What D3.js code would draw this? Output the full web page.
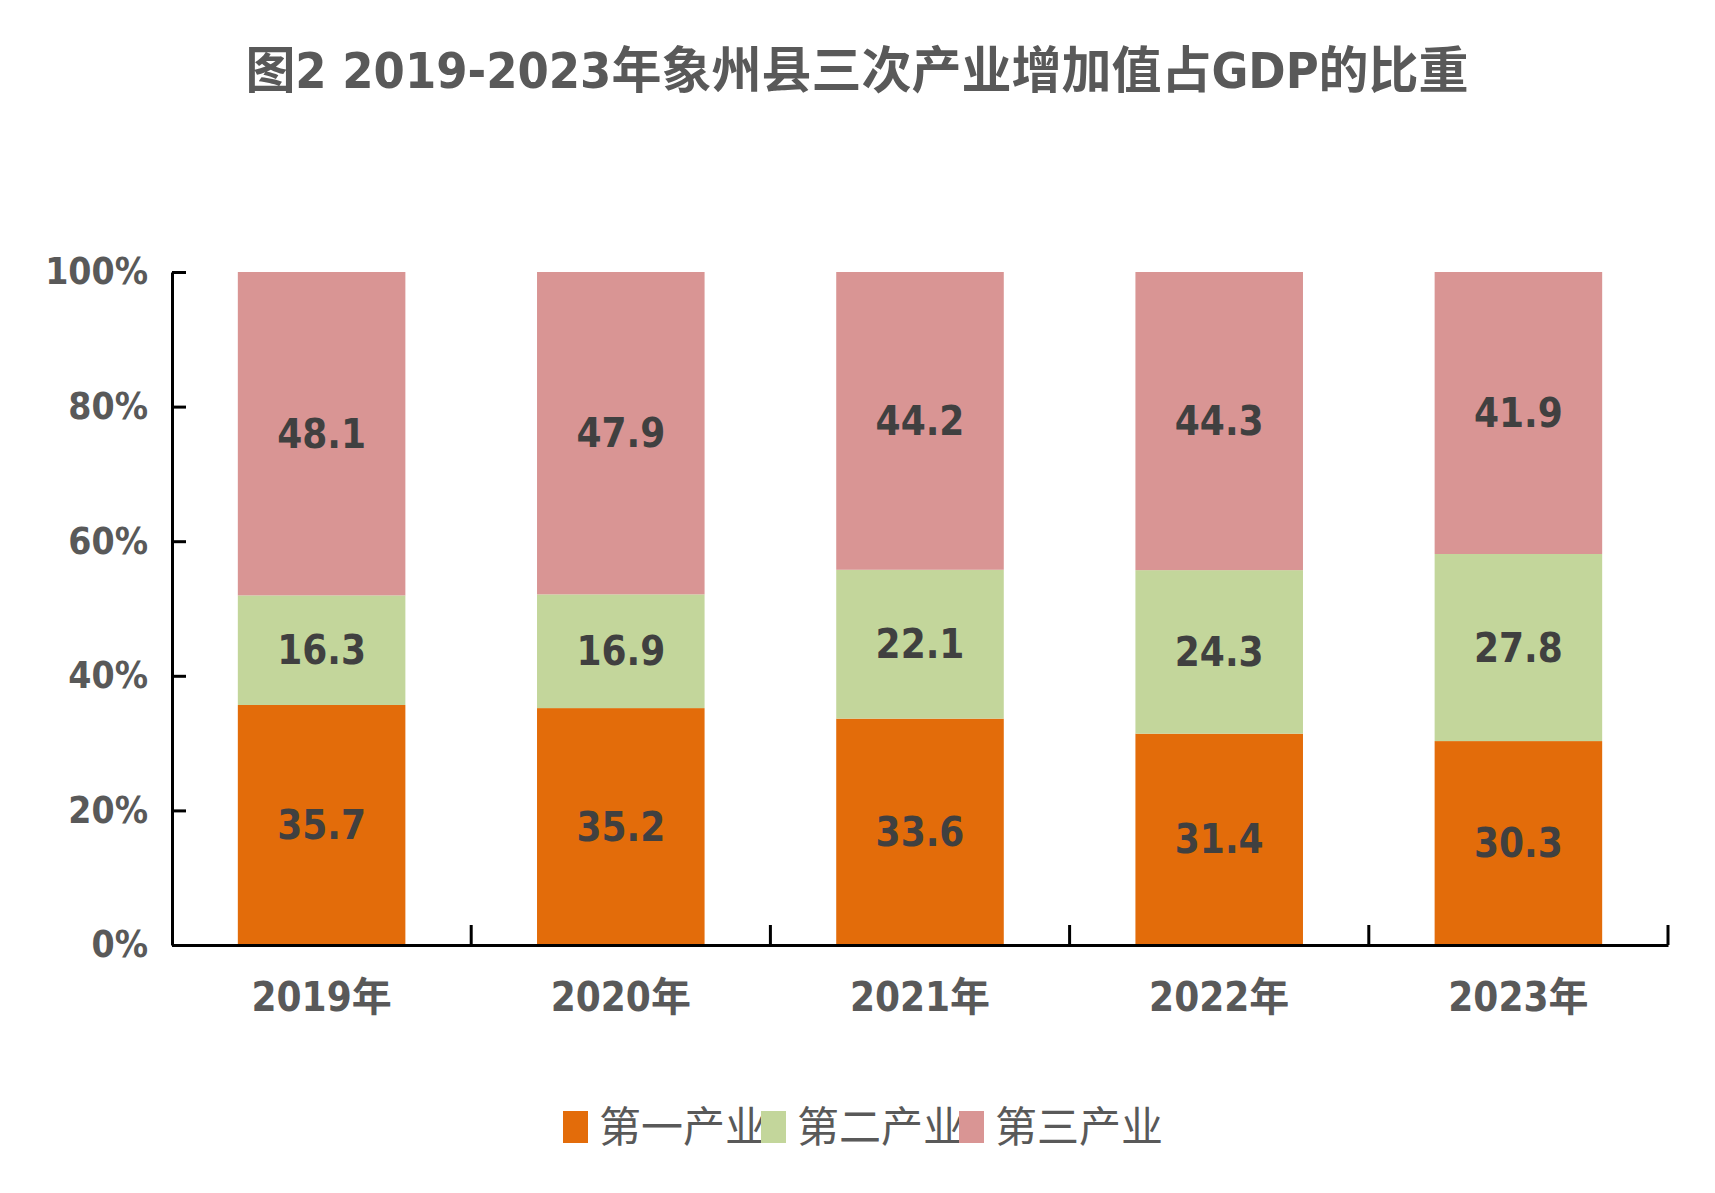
<!DOCTYPE html>
<html><head><meta charset="utf-8">
<script src="https://cdn.jsdelivr.net/npm/d3@7"></script>
<style>body{margin:0;background:#fff}</style>
</head><body>
<div id="chart"></div>
<script>
// chart data
const years = ["2019年", "2020年", "2021年", "2022年", "2023年"];
const primary = [35.7, 35.2, 33.6, 31.4, 30.3];
const secondary = [16.3, 16.9, 22.1, 24.3, 27.8];
const tertiary = [48.1, 47.9, 44.2, 44.3, 41.9];
const seriesNames = ["第一产业", "第二产业", "第三产业"];
const yTicks = [0, 0.2, 0.4, 0.6, 0.8, 1];

const width = 1715, height = 1193;
const margin = {left: 172, right: 47, top: 272, bottom: 248};
const colors = ["#e36c0a", "#c3d69b", "#d99594"];
const font = "'DejaVu Sans Condensed','Noto Sans CJK SC',sans-serif";

const rows = years.map((y, i) => ({year: y, s0: primary[i], s1: secondary[i], s2: tertiary[i]}));
const stacked = d3.stack().keys(["s0", "s1", "s2"]).offset(d3.stackOffsetExpand)(rows);

const svg = d3.select("#chart").append("svg")
  .attr("width", width).attr("height", height)
  .style("font-family", font);

const x = d3.scaleBand().domain(years)
  .range([margin.left, width - margin.right]).paddingInner(0.44).paddingOuter(0.22);
const y = d3.scaleLinear().domain([0, 1]).range([height - margin.bottom, margin.top]);

// title
svg.append("text").attr("x", 857).attr("y", 88).attr("text-anchor", "middle")
  .attr("font-size", 50).attr("font-weight", "bold").attr("fill", "#595959")
  .text("图2 2019-2023年象州县三次产业增加值占GDP的比重");

// bars
const layer = svg.selectAll(".layer").data(stacked).enter().append("g")
  .attr("fill", (d, i) => colors[i]);
layer.selectAll("rect").data(d => d).enter().append("rect")
  .attr("x", d => x(d.data.year))
  .attr("y", d => y(d[1]))
  .attr("width", x.bandwidth())
  .attr("height", d => y(d[0]) - y(d[1]));
layer.selectAll("text").data((d, i) => d.map(v => ({v, k: d.key}))).enter().append("text")
  .attr("x", d => x(d.v.data.year) + x.bandwidth() / 2)
  .attr("y", d => (y(d.v[0]) + y(d.v[1])) / 2 + 14)
  .attr("text-anchor", "middle").attr("font-size", 40).attr("font-weight", "bold")
  .attr("fill", "#404040")
  .text(d => d.v.data[d.k].toFixed(1));

// y axis
const yAxis = svg.append("g").attr("transform", `translate(${margin.left},0)`)
  .call(d3.axisLeft(y).tickValues(yTicks).tickFormat(d3.format(".0%")).tickSizeInner(-14).tickSizeOuter(0).tickPadding(24));
yAxis.selectAll("path,line").attr("stroke", "#000").attr("stroke-width", 3);
yAxis.selectAll("text").attr("font-size", 37).attr("font-family", font).attr("fill", "#595959").attr("font-weight", "bold");

// x axis with ticks between categories
const xAxis = svg.append("g").attr("transform", `translate(0,${height - margin.bottom})`)
  .call(d3.axisBottom(x).tickSize(0).tickPadding(38));
xAxis.select(".domain").attr("stroke", "#000").attr("stroke-width", 3);
xAxis.selectAll("text").attr("font-size", 40).attr("font-family", font).attr("fill", "#595959").attr("font-weight", "bold");
const step = x.step();
svg.append("g").selectAll("line").data(years).enter().append("line")
  .attr("x1", (d, i) => margin.left + (i + 1) * (width - margin.left - margin.right) / years.length)
  .attr("x2", (d, i) => margin.left + (i + 1) * (width - margin.left - margin.right) / years.length)
  .attr("y1", height - margin.bottom).attr("y2", height - margin.bottom - 20)
  .attr("stroke", "#000").attr("stroke-width", 3);

// legend
const legend = svg.append("g").attr("transform", "translate(563,1127)");
const item = legend.selectAll("g").data(seriesNames).enter().append("g")
  .attr("transform", (d, i) => `translate(${i * 198},0)`);
item.append("rect").attr("x", 0).attr("y", -16).attr("width", 25).attr("height", 32)
  .attr("fill", (d, i) => colors[i]);
item.append("text").attr("x", 36).attr("y", 15).attr("font-size", 42)
  .attr("fill", "#595959").text(d => d);
</script>
</body></html>
